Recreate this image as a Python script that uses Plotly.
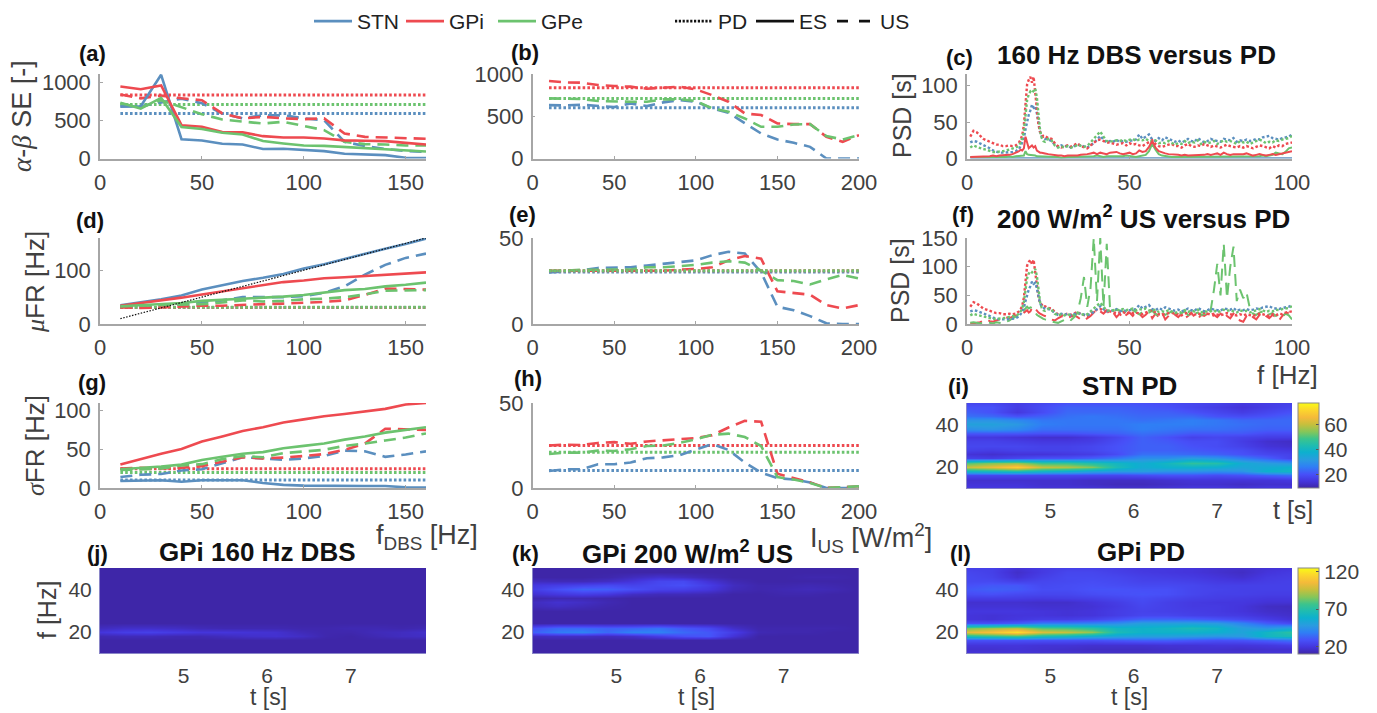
import plotly.graph_objects as go

W, H = 1377, 713
BLUE, RED, GREEN = "#5b8fbf", "#ee4a50", "#6cc36f"
GREY_TXT = "#404040"
AX = "#a6a6a6"
FONT = "Liberation Sans"

# ---------- x values ----------
f_dbs = [10, 20, 30, 40, 50, 60, 70, 80, 90, 100, 110, 120, 130, 140, 150, 160]
i_us = [10, 20, 30, 40, 50, 60, 70, 80, 90, 100, 110, 120, 130, 140, 150, 160, 170, 180, 190, 200]
psd_f = list(range(1, 16)) + [15.5 + 0.5 * i for i in range(18)] + list(range(25, 101))

# ---------- (a) alpha-beta SE, DBS ----------
se_pd = {"STN": 595, "GPi": 838, "GPe": 714}
a_es_stn = [683, 690, 1105, 255, 238, 195, 185, 125, 128, 110, 97, 62, 53, 45, 10, 5]
a_es_gpi = [950, 915, 965, 440, 420, 350, 345, 295, 278, 278, 265, 240, 235, 230, 207, 185]
a_es_gpe = [735, 660, 800, 415, 390, 340, 317, 230, 198, 172, 167, 150, 141, 123, 101, 92]
a_us_stn = [690, 690, 740, 790, 730, 595, 530, 570, 570, 530, 505, 220, 165, 125, 100, 88]
a_us_gpi = [845, 795, 830, 795, 770, 595, 530, 550, 530, 520, 530, 330, 286, 278, 270, 260]
a_us_gpe = [725, 675, 770, 675, 585, 515, 485, 462, 485, 428, 375, 220, 190, 185, 172, 172]

# ---------- (b) alpha-beta SE, US ----------
b_pd = {"STN": 600, "GPi": 838, "GPe": 711}
b_us_stn = [632, 628, 636, 620, 608, 652, 620, 664, 692, 672, 593, 541, 415, 296, 225, 186, 138, 0, 0, 0]
b_us_gpi = [917, 900, 897, 870, 858, 850, 826, 842, 850, 818, 750, 672, 533, 514, 415, 407, 407, 257, 198, 277]
b_us_gpe = [711, 703, 703, 680, 672, 672, 672, 700, 700, 680, 593, 553, 474, 375, 375, 403, 407, 265, 225, 277]

# ---------- (d) mean firing rate, DBS ----------
d_pd = {"STN": 30.5, "GPi": 30.5, "GPe": 31}
d_es_stn = [35, 40, 46, 53, 64, 72, 80, 86, 93, 103, 111, 121, 131, 140, 149, 159]
d_es_gpi = [34, 39, 43, 49, 55, 61, 67, 73, 78, 81, 85, 87, 89, 91, 94, 96]
d_es_gpe = [33, 35, 37, 39, 43, 45, 46, 49, 51, 54, 58, 63, 65, 70, 73, 77]
d_us_stn = [33, 35, 35, 36, 40, 44, 50, 50, 50, 52, 58, 70, 92, 110, 123, 131]
d_us_gpi = [31, 30, 31, 33, 34, 34, 36, 37, 38, 39, 41, 44, 54, 66, 65, 64]
d_us_gpe = [33, 34, 34, 36, 37, 40, 44, 42, 43, 46, 47, 50, 55, 62, 62, 63]
d_identity = [10, 20, 30, 40, 50, 60, 70, 80, 90, 100, 110, 120, 130, 140, 150, 160]

# ---------- (e) mean firing rate, US ----------
e_pd = {"STN": 30.2, "GPi": 31, "GPe": 31}
e_us_stn = [30, 30.5, 31.3, 32.6, 33, 33, 34, 35, 36, 37, 40, 42, 41, 30, 10, 8, 4.6, 0.4, 0, 0]
e_us_gpi = [31, 31, 31, 31, 31, 31, 31, 31, 31.6, 32, 33, 37, 39.5, 38, 19, 18, 17, 11, 9, 11]
e_us_gpe = [31, 31, 31.5, 31.7, 31.5, 31.7, 33, 33, 33.6, 34.4, 35.7, 36.5, 35.7, 31, 25.5, 25, 23, 26, 28.5, 26.5]

# ---------- (g) SD firing rate, DBS ----------
g_pd = {"STN": 10.3, "GPi": 24.7, "GPe": 20}
g_es_stn = [9, 9.4, 10, 8, 10, 10, 10, 6.4, 4, 3, 2.6, 2.6, 2.5, 2.5, 1, 0.5]
g_es_gpi = [30, 37, 44, 50, 59.5, 66, 73, 78, 84, 88, 92, 95, 98, 101.5, 107, 109]
g_es_gpe = [24, 25.5, 27.6, 30, 36, 40, 44, 46, 51, 54, 57, 62, 66, 71, 74.5, 78]
g_us_stn = [14, 17, 18, 22.5, 24, 32, 39.5, 38, 36, 38, 41, 48, 47, 40, 43, 47]
g_us_gpi = [25, 26, 25, 26, 28, 34, 39.5, 38, 39, 41, 43.5, 49, 57, 76, 75, 74.5]
g_us_gpe = [23, 23.8, 25, 29, 30.6, 37, 41, 39.5, 44.7, 46.8, 49, 54, 57, 61, 64.7, 70]

# ---------- (h) SD firing rate, US ----------
h_pd = {"STN": 10.3, "GPi": 25, "GPe": 21}
h_us_stn = [10, 11, 11, 14, 14, 15, 17.5, 18, 19.3, 22.7, 25.8, 22.4, 15, 9, 5.8, 5, 3.3, 0, 0, 0]
h_us_gpi = [25, 25.5, 25.3, 26.5, 27, 26, 27.4, 28, 28.6, 29.4, 31, 35.6, 39.5, 39, 8.4, 6, 3.3, 0, 0.6, 1]
h_us_gpe = [20, 20.8, 20.8, 22, 21.8, 22.8, 24.7, 25, 26.6, 28.6, 31.3, 32, 30, 24.7, 6.4, 5, 3, 0, 0.5, 1]

# ---------- (c), (f) PSD ----------
psd_pd_gpi = [30, 38, 36, 31, 27, 25, 23, 21, 19, 19, 17, 17, 18, 17, 18,
              20, 22, 26, 32, 46, 74, 102, 108, 112, 104, 112, 90, 66, 46, 36, 34, 30, 31,
              28, 27, 21, 17, 15, 17, 18, 16, 19, 21,
              17, 15, 14, 18, 22, 25, 26, 24, 22, 22,
              20, 19, 20, 21, 18, 21, 19, 20, 18, 17,
              20, 22, 25, 20, 17, 16, 18, 19, 20, 17,
              17, 15, 18, 20, 17, 16, 18, 17, 20, 18,
              16, 18, 16, 15, 17, 19, 17, 16, 15, 17,
              15, 17, 16, 14, 16, 18, 17, 15, 14, 17,
              15, 18, 17, 20, 21, 22]
psd_pd_gpe = [15, 18, 16, 14, 13, 12, 10, 9, 9, 9, 10, 11, 12, 13, 15,
              16, 18, 22, 28, 38, 62, 80, 88, 92, 90, 94, 96, 84, 60, 38, 28, 24, 23,
              27, 25, 18, 15, 17, 15, 17, 15, 16, 19,
              18, 16, 17, 22, 28, 33, 37, 30, 24, 23,
              24, 25, 24, 26, 24, 25, 27, 24, 26, 25,
              27, 24, 23, 25, 21, 22, 21, 24, 22, 19,
              21, 20, 24, 21, 23, 22, 25, 20, 23, 21,
              22, 24, 20, 22, 25, 23, 24, 22, 20, 24,
              22, 23, 20, 22, 24, 26, 24, 21, 23, 22,
              25, 24, 26, 27, 28, 31]
psd_pd_stn = [22, 24, 23, 21, 19, 16, 14, 11, 9, 8, 8, 8, 8, 9, 10,
              11, 13, 17, 22, 28, 40, 52, 60, 66, 74, 70, 72, 62, 46, 36, 30, 28, 27,
              26, 24, 19, 16, 18, 16, 18, 15, 17, 19,
              18, 16, 15, 18, 21, 26, 31, 26, 22, 24,
              23, 26, 22, 24, 23, 24, 25, 26, 33, 27,
              30, 33, 26, 24, 28, 25, 29, 27, 25, 23,
              25, 22, 24, 27, 24, 23, 28, 25, 22, 24,
              27, 25, 24, 23, 27, 26, 25, 28, 23, 25,
              24, 26, 24, 25, 27, 26, 29, 30, 31, 28,
              27, 26, 28, 29, 30, 33]
psd_es_gpi = [2, 2, 2, 3, 2, 3, 3, 4, 3, 4, 4, 5, 5, 6, 8,
              8, 10, 12, 11, 14, 30, 22, 14, 16, 18, 15, 17, 11, 9, 8, 8, 7, 7,
              6, 5, 5, 4, 4, 3, 4, 4, 3, 4,
              5, 5, 6, 7, 8, 6, 8, 7, 6, 8,
              8, 9, 7, 6, 7, 8, 6, 7, 11, 9,
              10, 16, 24, 15, 10, 8, 7, 6, 6, 5,
              5, 4, 5, 4, 4, 5, 5, 4, 5, 6,
              5, 6, 7, 5, 8, 6, 5, 6, 6, 5,
              6, 7, 5, 4, 5, 6, 5, 4, 5, 6,
              5, 6, 7, 8, 9, 10]
psd_es_gpe = [2, 2, 2, 2, 1, 2, 2, 1, 2, 2, 2, 2, 3, 2, 3,
              3, 3, 4, 3, 4, 10, 6, 5, 5, 4, 5, 4, 3, 3, 3, 3, 2, 2,
              2, 2, 2, 2, 1, 2, 2, 2, 2, 2,
              2, 2, 3, 3, 3, 4, 3, 2, 3, 3,
              3, 2, 3, 3, 4, 3, 3, 2, 3, 4,
              5, 10, 20, 12, 6, 4, 3, 3, 2, 2,
              2, 2, 3, 2, 2, 3, 2, 2, 2, 2,
              2, 3, 2, 3, 2, 2, 3, 2, 2, 2,
              2, 3, 2, 3, 2, 3, 4, 3, 4, 5,
              8, 7, 6, 9, 14, 15]
psd_es_stn = [0.4] * len(psd_f)
psd_us_gpe = [2, 3, 2, 1, 2, 3, 2, 1, 3, 2, 1, 4, 6, 10, 12,
              14, 16, 20, 22, 24, 28, 30, 27, 29, 28, 24, 18, 16, 14, 12, 10, 9, 8,
              6, 4, 3, 2, 5, 8, 10, 7, 12, 20,
              45, 82, 30, 62, 150, 40, 150, 30, 140, 28,
              22, 25, 24, 22, 19, 20, 24, 20, 17, 21,
              18, 20, 23, 17, 15, 20, 16, 19, 22, 17,
              15, 19, 22, 16, 14, 18, 20, 15, 18, 14,
              25, 60, 105, 50, 140, 45, 100, 135, 40, 60,
              45, 55, 28, 18, 16, 20, 22, 15, 17, 19,
              14, 16, 12, 18, 15, 8]
psd_us_gpi = [1, 1, 2, 3, 6, 8, 5, 4, 6, 8, 9, 12, 10, 13, 15,
              15, 16, 18, 17, 20, 22, 24, 20, 22, 28, 30, 26, 22, 20, 18, 16, 15, 14,
              12, 8, 6, 10, 13, 14, 11, 13, 15, 12,
              8, 6, 10, 14, 20, 26, 22, 18, 24, 16,
              20, 12, 18, 10, 16, 20, 14, 22, 18, 12,
              16, 22, 10, 18, 12, 20, 8, 14, 22, 16,
              12, 18, 10, 14, 20, 12, 8, 16, 14, 18,
              10, 16, 12, 18, 22, 14, 10, 18, 12, 6,
              4, 14, 18, 12, 8, 16, 20, 14, 10, 16,
              12, 6, 14, 18, 20, 22]

# ---------- spectrograms ----------
t_s = [4, 4.3, 4.6, 4.9, 5.2, 5.5, 5.8, 6.1, 6.4, 6.7, 7.0, 7.3, 7.6, 7.9]
f_hz = [10, 12, 14, 16, 18, 20, 22, 24, 26, 28, 30, 32, 34, 36, 38, 40, 42, 44, 46, 48, 50]
stn_pd = [
    [15, 15, 15, 14, 14, 14, 13, 13, 14, 15, 15, 14, 15, 15],
    [14, 14, 14, 13, 13, 12, 11, 11, 12, 13, 13, 12, 13, 13],
    [13, 13, 13, 13, 13, 12, 12, 12, 13, 14, 14, 14, 14, 15],
    [18, 18, 18, 18, 18, 18, 18, 19, 20, 20, 19, 20, 22, 24],
    [40, 42, 44, 40, 38, 34, 32, 32, 30, 30, 29, 30, 38, 40],
    [60, 64, 70, 60, 58, 54, 42, 36, 38, 38, 37, 34, 36, 38],
    [50, 54, 56, 48, 48, 44, 40, 36, 40, 46, 44, 36, 32, 30],
    [17, 16, 18, 20, 20, 22, 25, 29, 29, 32, 30, 26, 22, 17],
    [14, 13, 14, 14, 15, 16, 19, 24, 24, 23, 22, 20, 18, 17],
    [17, 16, 17, 17, 17, 18, 20, 22, 22, 21, 20, 19, 16, 15],
    [18, 18, 18, 17, 17, 18, 20, 22, 22, 20, 19, 17, 14, 13],
    [17, 17, 16, 15, 15, 16, 19, 22, 21, 19, 19, 16, 13, 12],
    [15, 15, 14, 13, 13, 15, 18, 22, 20, 17, 18, 17, 16, 16],
    [21, 21, 21, 20, 20, 21, 22, 24, 23, 21, 21, 21, 19, 19],
    [29, 30, 28, 24, 24, 24, 24, 26, 25, 24, 24, 23, 22, 22],
    [33, 33, 31, 26, 25, 25, 25, 26, 26, 26, 25, 24, 23, 23],
    [30, 30, 28, 25, 25, 25, 25, 24, 25, 26, 25, 23, 23, 23],
    [24, 23, 20, 22, 24, 25, 24, 23, 23, 23, 20, 19, 20, 22],
    [22, 20, 15, 19, 23, 23, 23, 22, 22, 20, 18, 16, 18, 20],
    [20, 20, 16, 19, 22, 22, 22, 21, 20, 18, 16, 14, 16, 18],
    [18, 18, 16, 18, 20, 20, 20, 20, 19, 18, 17, 15, 16, 17],
]
gpi_pd = [
    [19, 19, 19, 18, 18, 17, 16, 16, 17, 18, 18, 18, 19, 19],
    [17, 17, 18, 17, 16, 15, 15, 15, 16, 17, 17, 16, 17, 17],
    [19, 19, 19, 18, 18, 17, 17, 17, 18, 18, 19, 19, 20, 22],
    [28, 28, 28, 28, 28, 28, 30, 32, 32, 30, 28, 29, 32, 36],
    [68, 72, 76, 66, 62, 56, 52, 50, 50, 48, 46, 48, 62, 66],
    [102, 108, 118, 100, 96, 88, 66, 60, 60, 60, 58, 52, 62, 72],
    [84, 90, 94, 80, 78, 72, 62, 60, 62, 66, 62, 50, 46, 52],
    [28, 28, 31, 38, 38, 40, 43, 50, 50, 50, 48, 40, 31, 26],
    [19, 18, 20, 22, 22, 24, 28, 33, 33, 32, 29, 26, 22, 18],
    [19, 18, 19, 19, 18, 19, 22, 25, 25, 23, 22, 21, 18, 16],
    [20, 20, 20, 19, 18, 19, 22, 24, 23, 22, 21, 19, 16, 15],
    [18, 18, 18, 17, 17, 18, 21, 25, 23, 21, 21, 19, 15, 14],
    [17, 17, 17, 16, 16, 19, 22, 26, 23, 21, 20, 20, 18, 18],
    [22, 22, 22, 21, 22, 23, 25, 27, 25, 23, 22, 21, 20, 20],
    [27, 28, 26, 25, 25, 27, 28, 29, 28, 25, 23, 23, 22, 22],
    [30, 32, 31, 27, 27, 29, 29, 28, 28, 25, 24, 23, 23, 23],
    [28, 30, 30, 26, 27, 28, 27, 26, 26, 25, 23, 23, 23, 23],
    [26, 26, 23, 25, 26, 27, 26, 24, 24, 23, 21, 20, 22, 23],
    [26, 24, 18, 23, 26, 26, 25, 23, 22, 21, 19, 17, 21, 22],
    [25, 23, 16, 21, 25, 25, 23, 21, 20, 19, 17, 15, 19, 21],
    [23, 23, 18, 21, 23, 23, 22, 20, 20, 19, 17, 16, 18, 19],
]
gpi_dbs = [
    [10] * 14, [10] * 14, [10] * 14, [10] * 14,
    [12, 13, 13, 12, 12, 14, 16, 17, 15, 11, 10, 12, 14, 15],
    [19, 22, 23, 21, 19, 19, 18, 17, 13, 11, 11, 13, 14, 16],
    [14, 16, 16, 15, 13, 12, 12, 12, 11, 11, 12, 12, 11, 12],
    [10] * 14, [10] * 14, [10] * 14, [10] * 14, [10] * 14, [10] * 14,
    [10] * 14, [10] * 14, [10] * 14, [10] * 14, [10] * 14, [10] * 14, [10] * 14, [10] * 14,
]
gpi_us = [
    [10] * 14, [10] * 14, [10] * 14, [10] * 14,
    [14, 15, 15, 14, 16, 22, 28, 30, 18, 10, 10, 10, 10, 10],
    [32, 38, 40, 34, 40, 40, 34, 30, 22, 12, 11, 11, 10, 10],
    [28, 34, 34, 32, 33, 36, 30, 26, 16, 11, 11, 11, 11, 10],
    [10] * 14, [10] * 14, [10] * 14, [10] * 14,
    [13, 15, 13, 11, 10, 10, 10, 10, 10, 10, 10, 10, 10, 10],
    [14, 17, 15, 12, 10, 10, 10, 10, 10, 10, 10, 10, 10, 10],
    [11, 12, 12, 11, 10, 10, 10, 10, 10, 10, 10, 10, 10, 10],
    [17, 20, 22, 20, 15, 13, 13, 12, 10, 10, 11, 11, 10, 10],
    [22, 28, 33, 32, 28, 24, 23, 20, 13, 11, 12, 13, 12, 10],
    [20, 22, 24, 26, 24, 26, 28, 22, 14, 11, 11, 12, 11, 10],
    [14, 13, 13, 15, 19, 25, 26, 18, 12, 10, 10, 10, 10, 10],
    [10, 10, 10, 11, 14, 17, 15, 12, 10, 10, 10, 11, 11, 10],
    [10] * 14, [10] * 14,
]

PARULA = [
    [0.0, "#3e26a8"], [0.08, "#4435dc"], [0.16, "#4750f8"], [0.25, "#2f7ff5"],
    [0.33, "#2a9be0"], [0.42, "#0db0ce"], [0.5, "#1fbcb0"], [0.58, "#3cc48c"],
    [0.66, "#84c65a"], [0.75, "#c8bf3c"], [0.83, "#f4ba3a"], [0.92, "#fcd72c"],
    [1.0, "#f9fb15"],
]


def px(x):
    return x / W


def py(y):
    return 1 - y / H


fig = go.Figure()
n_ax = 0
layout = {}


def add_axes(x0, x1, ytop, ybot, xr, yr, xt, yt):
    global n_ax
    n_ax += 1
    sfx = "" if n_ax == 1 else str(n_ax)
    common = dict(showgrid=False, zeroline=False, showline=True, linecolor=AX, linewidth=1.5,
                  ticks="inside", ticklen=3, tickcolor=AX, tickwidth=1,
                  tickfont=dict(family=FONT, size=22, color=GREY_TXT))
    layout["xaxis" + sfx] = dict(domain=[px(x0), px(x1)], range=xr, tickvals=xt,
                                 anchor="y" + sfx, ticklabelstandoff=3, **common)
    layout["yaxis" + sfx] = dict(domain=[py(ybot), py(ytop)], range=yr, tickvals=yt,
                                 anchor="x" + sfx, ticklabelstandoff=3, **common)
    return "x" + sfx, "y" + sfx


def line(ax, x, y, color, kind, name=None, legend=None, width=None):
    dash = {"pd": "2.6px,2.2px", "es": "solid", "us": "12px,7px"}[kind]
    w = width or (3 if kind == "pd" else 2.6)
    fig.add_trace(go.Scatter(x=x, y=y, mode="lines", xaxis=ax[0], yaxis=ax[1],
                             line=dict(color=color, width=w, dash=dash),
                             name=name, showlegend=bool(legend), legend=legend,
                             hoverinfo="skip"))


COL = {"STN": BLUE, "GPi": RED, "GPe": GREEN}


def pd_lines(ax, x, d):
    for k in ["STN", "GPi", "GPe"]:
        line(ax, [x[0], x[-1]], [d[k], d[k]], COL[k], "pd")


XL, XM, XR = (100, 426), (532.7, 859), (967, 1292)
R1, R2, R3 = (74, 158.5), (238, 324), (403, 488)
R4 = (568, 653)

# (a)
ax = add_axes(*XL, *R1, [0, 160], [0, 1116], [0, 50, 100, 150], [0, 500, 1000])
pd_lines(ax, f_dbs, se_pd)
line(ax, f_dbs, a_us_stn, BLUE, "us")
line(ax, f_dbs, a_us_gpe, GREEN, "us")
line(ax, f_dbs, a_us_gpi, RED, "us")
line(ax, f_dbs, a_es_stn, BLUE, "es", "STN", "legend")
line(ax, f_dbs, a_es_gpi, RED, "es", "GPi", "legend")
line(ax, f_dbs, a_es_gpe, GREEN, "es", "GPe", "legend")
for nm, dsh in [("PD", "2.2px,1.6px"), ("ES", "solid"), ("US", "11px,11px")]:
    fig.add_trace(go.Scatter(x=[None], y=[None], mode="lines", xaxis=ax[0], yaxis=ax[1], name=nm,
                             line=dict(color="#111111", width=2.6, dash=dsh), legend="legend2"))

# (b)
ax = add_axes(*XM, *R1, [0, 200], [0, 1000], [0, 50, 100, 150, 200], [0, 500, 1000])
pd_lines(ax, i_us, b_pd)
line(ax, i_us, b_us_stn, BLUE, "us")
line(ax, i_us, b_us_gpi, RED, "us")
line(ax, i_us, b_us_gpe, GREEN, "us")

# (c)
ax = add_axes(*XR, *R1, [0, 100], [0, 116], [0, 50, 100], [0, 50, 100])
line(ax, psd_f, psd_pd_stn, BLUE, "pd", width=2.4)
line(ax, psd_f, psd_pd_gpi, RED, "pd", width=2.4)
line(ax, psd_f, psd_pd_gpe, GREEN, "pd", width=2.4)
line(ax, psd_f, psd_es_stn, BLUE, "es", width=2)
line(ax, psd_f, psd_es_gpe, GREEN, "es", width=2)
line(ax, psd_f, psd_es_gpi, RED, "es", width=2)

# (d)
ax = add_axes(*XL, *R2, [0, 160], [0, 160], [0, 50, 100, 150], [0, 100])
pd_lines(ax, f_dbs, d_pd)
line(ax, f_dbs, d_us_stn, BLUE, "us")
line(ax, f_dbs, d_us_gpi, RED, "us")
line(ax, f_dbs, d_us_gpe, GREEN, "us")
line(ax, f_dbs, d_es_stn, BLUE, "es")
line(ax, f_dbs, d_es_gpi, RED, "es")
line(ax, f_dbs, d_es_gpe, GREEN, "es")
fig.add_trace(go.Scatter(x=f_dbs, y=d_identity, mode="lines", xaxis=ax[0], yaxis=ax[1], showlegend=False,
                         line=dict(color="#111111", width=1.2, dash="1.5px,1.5px"), hoverinfo="skip"))

# (e)
ax = add_axes(*XM, *R2, [0, 200], [0, 50], [0, 50, 100, 150, 200], [0, 50])
line(ax, i_us, e_us_stn, BLUE, "us")
line(ax, i_us, e_us_gpi, RED, "us")
line(ax, i_us, e_us_gpe, GREEN, "us")
pd_lines(ax, i_us, e_pd)

# (f)
ax = add_axes(*XR, *R2, [0, 100], [0, 150], [0, 50, 100], [0, 50, 100, 150])
line(ax, psd_f, psd_us_gpi, RED, "us", width=2)
line(ax, psd_f, psd_us_gpe, GREEN, "us", width=2)
line(ax, psd_f, psd_pd_gpi, RED, "pd", width=2.4)
line(ax, psd_f, psd_pd_stn, BLUE, "pd", width=2.4)
line(ax, psd_f, psd_pd_gpe, GREEN, "pd", width=2.4)

# (g)
ax = add_axes(*XL, *R3, [0, 160], [0, 109], [0, 50, 100, 150], [0, 50, 100])
pd_lines(ax, f_dbs, g_pd)
line(ax, f_dbs, g_us_stn, BLUE, "us")
line(ax, f_dbs, g_us_gpi, RED, "us")
line(ax, f_dbs, g_us_gpe, GREEN, "us")
line(ax, f_dbs, g_es_stn, BLUE, "es")
line(ax, f_dbs, g_es_gpi, RED, "es")
line(ax, f_dbs, g_es_gpe, GREEN, "es")

# (h)
ax = add_axes(*XM, *R3, [0, 200], [0, 50], [0, 50, 100, 150, 200], [0, 50])
pd_lines(ax, i_us, h_pd)
line(ax, i_us, h_us_stn, BLUE, "us")
line(ax, i_us, h_us_gpi, RED, "us")
line(ax, i_us, h_us_gpe, GREEN, "us")


def heat(xs, rows, z, zr, bar=None):
    ax = add_axes(*xs, *rows, [4, 7.9], [10, 50], [5, 6, 7], [20, 40])
    kw = dict(showscale=False)
    if bar:
        kw = dict(showscale=True, colorbar=bar)
    fig.add_trace(go.Heatmap(x=t_s, y=f_hz, z=z, xaxis=ax[0], yaxis=ax[1], zsmooth="best",
                             colorscale=PARULA, zmin=zr[0], zmax=zr[1], hoverinfo="skip", **kw))
    sfx = ax[0][1:]
    fnt = dict(family=FONT, size=21, color=GREY_TXT)
    layout["xaxis" + sfx].update(ticks="", ticklabelstandoff=4, tickfont=fnt, linecolor="#8a86c8", linewidth=1)
    layout["yaxis" + sfx].update(ticks="", tickfont=fnt, linecolor="#8a86c8", linewidth=1)


def cbar(y0, y1, ticks):
    return dict(thickness=21, thicknessmode="pixels", len=(y1 - y0) / H, lenmode="fraction",
                x=px(1298), xanchor="left", xref="paper", xpad=0, ypad=0,
                y=py(y1), yanchor="bottom", yref="paper",
                tickvals=ticks, ticks="inside", ticklen=3, tickcolor="#555555",
                outlinecolor="#888888", outlinewidth=1,
                tickfont=dict(family=FONT, size=21, color=GREY_TXT))


heat(XR, R3, stn_pd, (9, 77), cbar(403, 488, [20, 40, 60]))
heat(XL, R4, gpi_dbs, (10, 125))
heat(XM, R4, gpi_us, (10, 125))
heat(XR, R4, gpi_pd, (10, 125), cbar(568, 654, [20, 70, 120]))

# ---------- text ----------
ann = []


def text(s, x, y, size=25, color=GREY_TXT, angle=0):
    ann.append(dict(text=s, x=px(x), y=py(y), xref="paper", yref="paper", showarrow=False,
                    xanchor="center", yanchor="middle", textangle=angle,
                    font=dict(family=FONT, size=size, color=color)))


GR = "<span style=\"font-family:'Liberation Serif';font-style:italic\">%s</span>"
for lab, x, y in [("a", 92, 53), ("b", 525, 52), ("c", 959, 57), ("d", 90, 220), ("e", 522, 215), ("f", 963, 215),
                  ("g", 92, 383), ("h", 528, 378), ("i", 958, 387), ("j", 97, 553), ("k", 525, 553), ("l", 960, 553)]:
    text("<b>(%s)</b>" % lab, x, y, size=22, color="#111111")
for s, x, y in [("160 Hz DBS versus PD", 1136, 55), ("200 W/m<sup>2</sup> US versus PD", 1143, 217),
                ("STN PD", 1129, 386), ("GPi 160 Hz DBS", 257, 552), ("GPi 200 W/m<sup>2</sup> US", 687, 552),
                ("GPi PD", 1141, 552)]:
    text("<b>%s</b>" % s, x, y, size=26, color="#111111")
text(GR % "α" + "-" + GR % "β" + " SE [-]", 22, 116, size=27, angle=-90)
text(GR % "μ" + "FR [Hz]", 35, 282, size=26, angle=-90)
text(GR % "σ" + "FR [Hz]", 35, 446, size=26, angle=-90)
text("PSD [s]", 902, 116, angle=-90)
text("PSD [s]", 900, 281, angle=-90)
text("f [Hz]", 47, 610, size=25, angle=-90)
text("f [Hz]", 1287, 375, size=26)
text("t [s]", 1293, 510, size=25)
text("f<sub>DBS</sub> [Hz]", 427, 537, size=27)
text("I<sub>US</sub> [W/m<sup>2</sup>]", 871, 538, size=27)
for x in (268, 696, 1129):
    text("t [s]", x, 697, size=23)

fig.update_layout(
    width=W, height=H, margin=dict(l=0, r=0, t=0, b=0, autoexpand=False),
    paper_bgcolor="white", plot_bgcolor="white", annotations=ann,
    font=dict(family=FONT, color=GREY_TXT),
    legend=dict(orientation="h", x=px(309), xanchor="left", y=py(1), yanchor="top", itemwidth=38,
                entrywidthmode="pixels", entrywidth=39, bgcolor="rgba(0,0,0,0)",
                font=dict(family=FONT, size=21, color="#222222"), itemsizing="trace", traceorder="normal"),
    legend2=dict(orientation="h", x=px(670), xanchor="left", y=py(1), yanchor="top", itemwidth=38,
                 entrywidthmode="pixels", entrywidth=28, bgcolor="rgba(0,0,0,0)",
                 font=dict(family=FONT, size=21, color="#222222"), traceorder="normal"),
    **layout,
)
fig.write_html("out.html", config={"displayModeBar": False},
               post_script="document.body.style.margin='0';document.body.style.overflow='hidden';")
